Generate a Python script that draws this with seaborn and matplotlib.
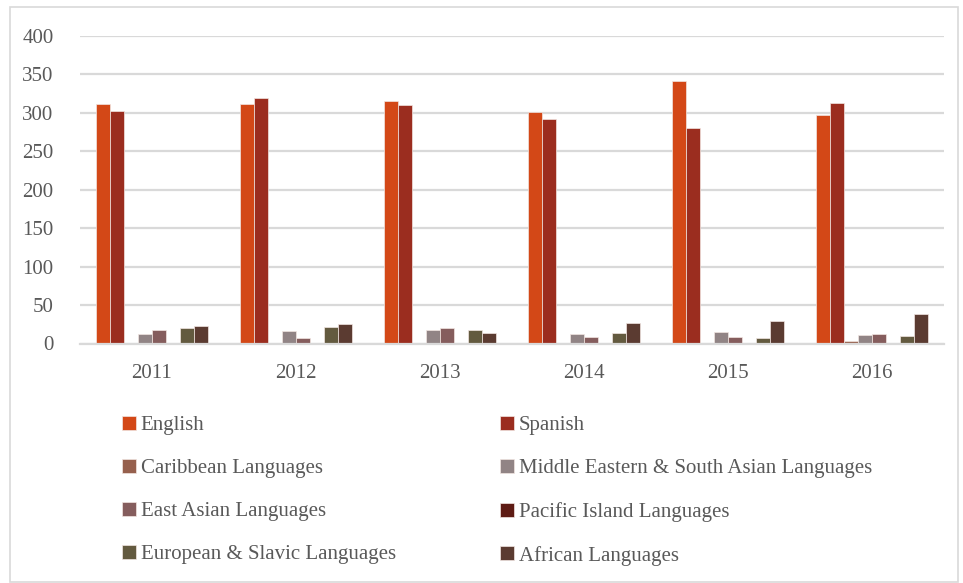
import matplotlib
matplotlib.use("Agg")
import matplotlib.pyplot as plt
from matplotlib.patches import Rectangle
import seaborn as sns
import pandas as pd

years = ["2011", "2012", "2013", "2014", "2015", "2016"]
languages = [
    "English",
    "Spanish",
    "Caribbean Languages",
    "Middle Eastern & South Asian Languages",
    "East Asian Languages",
    "Pacific Island Languages",
    "European & Slavic Languages",
    "African Languages",
]
english = [311, 311, 316, 301, 341, 297]
spanish = [303, 320, 310, 292, 280, 313]
caribbean = [0, 0, 0, 0, 0, 3]
middle_eastern = [12, 16, 17, 12, 15, 11]
east_asian = [18, 7, 20, 9, 8, 13]
pacific_island = [0, 0, 0, 0, 0, 0]
european_slavic = [20, 21, 17, 14, 7, 10]
african = [23, 25, 14, 27, 29, 38]

colors = ["#D34817", "#9B2D1F", "#96604D", "#918485",
          "#855D5D", "#5E1B14", "#635A3F", "#5B3B31"]

series = [english, spanish, caribbean, middle_eastern,
          east_asian, pacific_island, european_slavic, african]
rows = []
for lang, vals in zip(languages, series):
    for yr, v in zip(years, vals):
        rows.append({"Year": yr, "Language": lang, "Count": v})
df = pd.DataFrame(rows)

sns.set_theme(style="white")
plt.rcParams["font.family"] = ["Liberation Serif", "DejaVu Serif"]
text_color = "#595959"
grid_color = "#D9D9D9"

fig = plt.figure(figsize=(9.63, 5.83), dpi=100)
ax = fig.add_axes([80 / 963, 1 - 343.5 / 583, 864 / 963, 307.5 / 583])

sns.barplot(data=df, x="Year", y="Count", hue="Language",
            order=years, hue_order=languages, palette=colors,
            saturation=1, width=0.78, edgecolor="#F2E6E2", linewidth=0.5,
            ax=ax, errorbar=None)

ax.set_ylim(0, 400)
ax.set_xlim(-0.5, 5.5)
ax.set_yticks(range(0, 401, 50))
ax.yaxis.grid(True, color=grid_color, linewidth=1.6)
ax.set_axisbelow(True)
for side in ["top", "right", "left"]:
    ax.spines[side].set_visible(False)
ax.spines["bottom"].set_color(grid_color)
ax.spines["bottom"].set_linewidth(1.6)
ax.tick_params(axis="both", length=0, labelsize=15, labelcolor=text_color)
ax.tick_params(axis="y", pad=19)
ax.tick_params(axis="x", pad=15)
ax.set_xlabel("")
ax.set_ylabel("")

handles, labels = ax.get_legend_handles_labels()
ax.get_legend().remove()

legend_kw = dict(loc="upper left", frameon=False, fontsize=15,
                 labelcolor=text_color, handlelength=0.65, handleheight=0.65,
                 handletextpad=0.24, labelspacing=1.14, borderpad=0,
                 borderaxespad=0)
left_idx = [0, 2, 4, 6]
right_idx = [1, 3, 5, 7]
fig.legend([handles[i] for i in left_idx], [labels[i] for i in left_idx],
           bbox_to_anchor=(122 / 963, 1 - 416 / 583), **legend_kw)
fig.legend([handles[i] for i in right_idx], [labels[i] for i in right_idx],
           bbox_to_anchor=(500 / 963, 1 - 416 / 583), **legend_kw)

fig.patches.append(Rectangle((10 / 963, 0.002), 948 / 963, 1 - 7 / 583 - 0.002,
                             transform=fig.transFigure, fill=False,
                             edgecolor="#D9D9D9", linewidth=1.2))

fig.savefig("out.png", dpi=100)
